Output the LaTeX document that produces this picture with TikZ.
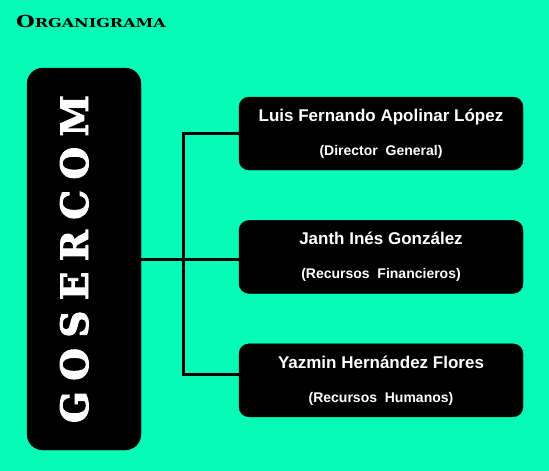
\documentclass[tikz,border=0pt]{standalone}
\usepackage{fontspec}
\setmainfont{Liberation Sans}
\newfontfamily\heavyserif{DejaVu Serif}
\newfontfamily\fatserif{DejaVu Serif Bold}[FakeBold=2.5]
\usepackage{xcolor}
\usepackage{graphicx}
\usetikzlibrary{positioning}

\definecolor{mint}{HTML}{06FBB6}

\begin{document}
\begin{tikzpicture}[
  x=1pt, y=-1pt,
  node distance=50pt,
  member/.style={
    fill=black,
    draw=black,
    rounded corners=10pt,
    text=white,
    align=center,
    font=\fontsize{14}{16}\selectfont\bfseries,
    minimum width=284pt,
    minimum height=73pt,
    inner sep=0pt
  },
  companybox/.style={
    fill=black,
    draw=black,
    rounded corners=16pt,
    text=white,
    rotate=90,
    minimum width=382pt,
    minimum height=114pt,
    text depth=20pt,
    inner sep=0pt
  },
  link/.style={draw=black, line width=3pt}
]
\fill[mint] (0,0) rectangle (549,471);
\useasboundingbox (0,0) rectangle (549,471);

\node[anchor=base west, inner sep=0pt] (title) at (16,27.3) {\heavyserif\bfseries\scalebox{1.3}[1]{\fontsize{16.5}{18}\selectfont O\fontsize{12.3}{14}\selectfont RGANIGRAMA}};

\node[companybox] (coser) at (84,259) {\resizebox{328pt}{28pt}{\fatserif\fontsize{38}{38}\selectfont G\kern.28em O\kern.28em S\kern.28em E\kern.28em R\kern.28em C\kern.28em O\kern.28em M}};

\node[member] (luis) at (381,133.5) {{\fontsize{17}{19}\selectfont Luis Fernando Apolinar López}\\[18pt](Director\ \ General)};
\node[member, below=of luis] (janth) {{\fontsize{17}{19}\selectfont Janth Inés González}\\[18pt](Recursos\ \ Financieros)};
\node[member, below=of janth] (yazmin) {{\fontsize{17}{19}\selectfont Yazmin Hernández Flores}\\[18pt](Recursos\ \ Humanos)};

\draw[link] (coser.south) -- (coser.south -| janth.west);
\draw[link] (luis.west) -- ++(-55,0) |- ([yshift=6pt]yazmin.west);
\end{tikzpicture}
\end{document}
